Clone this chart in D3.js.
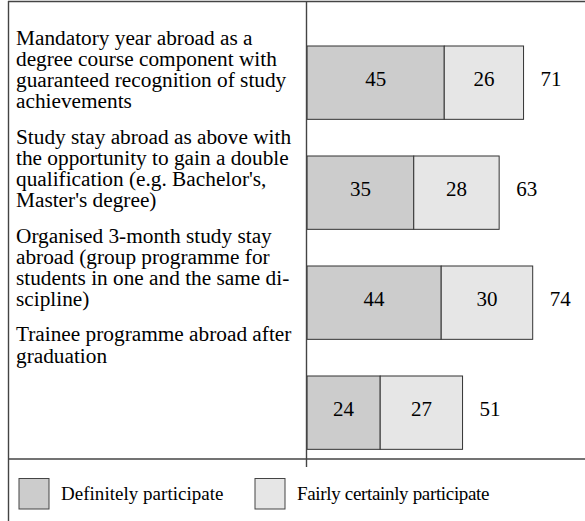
<!DOCTYPE html>
<html>
<head>
<meta charset="utf-8">
<script src="https://cdn.jsdelivr.net/npm/d3@7"></script>
<style>
  html, body { margin: 0; padding: 0; background: #fff; }
  svg { display: block; }
  text { font-family: "Liberation Serif", "Times New Roman", serif; fill: #000; }
</style>
</head>
<body>
<svg id="chart" width="585" height="521"></svg>
<script>
// Participation interest in study-abroad formats (percent of respondents)
const categories = [
  "Mandatory year abroad",
  "Study stay with double qualification",
  "Organised 3-month study stay",
  "Trainee programme after graduation"
];
const categoryLines = [
  ["Mandatory year abroad as a", "degree course component with", "guaranteed recognition of study", "achievements"],
  ["Study stay abroad as above with", "the opportunity to gain a double", "qualification (e.g. Bachelor's,", "Master's degree)"],
  ["Organised 3-month study stay", "abroad (group programme for", "students in one and the same di-", "scipline)"],
  ["Trainee programme abroad after", "graduation"]
];
const definitely = [45, 35, 44, 24];
const fairly = [26, 28, 30, 27];
const totals = [71, 63, 74, 51];
const seriesNames = ["Definitely participate", "Fairly certainly participate"];
const seriesColors = ["#cccccc", "#e6e6e6"];

const svg = d3.select("#chart");

const x = d3.scaleLinear().domain([0, 100]).range([307, 612]);
const y = d3.scaleBand()
  .domain(categories)
  .range([9.33, 486])
  .paddingInner(1 / 3)
  .paddingOuter(1 / 3);

// Frame lines
const frame = svg.append("g").attr("stroke", "#444").attr("stroke-width", 1.4);
frame.append("line").attr("x1", 8).attr("x2", 585).attr("y1", 1.5).attr("y2", 1.5);
frame.append("line").attr("x1", 8.5).attr("x2", 8.5).attr("y1", 1).attr("y2", 521);
frame.append("line").attr("x1", 8).attr("x2", 585).attr("y1", 459).attr("y2", 459);

// Stacked bars
const stackData = categories.map((c, i) => ({ cat: c, d: definitely[i], f: fairly[i] }));
const stack = d3.stack().keys(["d", "f"])(stackData);

stack.forEach((layer, li) => {
  const g = svg.append("g");
  g.selectAll("rect")
    .data(layer)
    .join("rect")
    .attr("x", d => x(d[0]))
    .attr("y", d => y(d.data.cat))
    .attr("width", d => x(d[1]) - x(d[0]))
    .attr("height", y.bandwidth())
    .attr("fill", seriesColors[li])
    .attr("stroke", "#333")
    .attr("stroke-width", 1);
  g.selectAll("text")
    .data(layer)
    .join("text")
    .attr("x", d => (x(d[0]) + x(d[1])) / 2)
    .attr("y", d => y(d.data.cat) + y.bandwidth() / 2 + 3.5)
    .attr("text-anchor", "middle")
    .attr("font-size", 21)
    .text(d => d[1] - d[0]);
});

// Totals to the right of each bar
svg.append("g").selectAll("text")
  .data(categories)
  .join("text")
  .attr("x", (c, i) => x(totals[i]) + 17)
  .attr("y", c => y(c) + y.bandwidth() / 2 + 3.5)
  .attr("font-size", 21)
  .text((c, i) => totals[i]);

// Vertical axis line
svg.append("line")
  .attr("x1", 306.5).attr("x2", 306.5)
  .attr("y1", 1).attr("y2", 467)
  .attr("stroke", "#444").attr("stroke-width", 1.4);

// Category descriptions, set as stacked paragraphs
const lineH = 21.1;
const paraGap = 35.5;
let base = 45;
const labels = svg.append("g");
categoryLines.forEach(lines => {
  const t = labels.append("text").attr("x", 16).attr("font-size", 21.3);
  lines.forEach((ln, j) => {
    t.append("tspan").attr("x", 16).attr("y", base + j * lineH).text(ln);
  });
  base += (lines.length - 1) * lineH + paraGap;
});

// Legend
const legendX = [19, 255];
const legend = svg.append("g");
seriesNames.forEach((name, i) => {
  legend.append("rect")
    .attr("x", legendX[i]).attr("y", 478.5)
    .attr("width", 30).attr("height", 30.5)
    .attr("fill", seriesColors[i])
    .attr("stroke", "#444").attr("stroke-width", 1);
  legend.append("text")
    .attr("x", legendX[i] + 42).attr("y", 500)
    .attr("font-size", 19)
    .attr("textLength", i === 0 ? 162.5 : 192.5)
    .text(name);
});
</script>
</body>
</html>
